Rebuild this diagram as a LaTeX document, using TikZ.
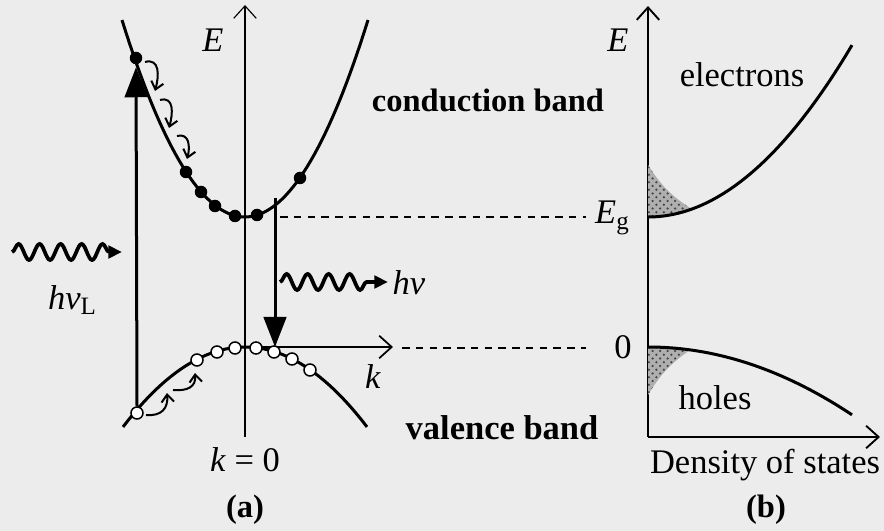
\documentclass[tikz,border=0pt]{standalone}
\usepackage{fontspec}
\setmainfont{Liberation Serif}
\usetikzlibrary{arrows.meta,decorations.pathmorphing,patterns}
\definecolor{bgc}{RGB}{236,236,236}
\definecolor{stip}{RGB}{70,70,70}
\definecolor{stipbg}{RGB}{175,175,175}
\tikzset{
  band/.style={line width=1.2pt},
  axisthin/.style={line width=0.45pt,-{Straight Barb[length=5pt,width=9pt]}},
  axisdos/.style={line width=0.75pt,-{Straight Barb[length=5pt,width=9pt]}},
  edot/.style={circle,fill=black,inner sep=0pt,minimum size=5pt},
  hdot/.style={circle,draw=black,line width=0.6pt,fill=white,inner sep=0pt,minimum size=4.8pt},
  bigarrow/.style={line width=1.2pt,-{Triangle[length=12pt,width=9pt]}},
  curly/.style={line width=0.8pt,-{Straight Barb[length=3pt,width=5pt]}},
  wavy/.style={line width=1.5pt,decorate,decoration={snake,amplitude=3.2pt,segment length=8.4pt,post length=5pt},-{Triangle[length=5.5pt,width=5pt]}},
  dashln/.style={line width=0.55pt,dash pattern=on 3pt off 2.5pt},
  lbl/.style={font=\fontsize{13.8}{16}\selectfont,inner sep=0pt},
  blbl/.style={font=\fontsize{13}{16}\selectfont\bfseries,inner sep=0pt},
  shadebg/.style={fill=stipbg},
  shade/.style={pattern=crosshatch dots,pattern color=stip}
}
\begin{document}
\begin{tikzpicture}[x=0.4pt,y=-0.4pt]
\fill[bgc] (0,0) rectangle (884,531);
\useasboundingbox (0,0) rectangle (884,531);
% ---------- panel (a) ----------
\coordinate (Eb) at (245,437);
\coordinate (Et) at (245,5);
\draw[axisthin] (Eb) -- (Et);
\node[lbl] (Elab) at (213,40) {\textit{E}};
\coordinate (kl) at (245,347);
\coordinate (kr) at (393,347);
\draw[line width=0.7pt,-{Straight Barb[length=5pt,width=9pt]}] (kl) -- (kr);
\node[lbl] (klab) at (373,377) {\textit{k}};
\node[lbl] (k0) at (245,460) {\textit{k} = 0};
\node[blbl] (la) at (245,510) {(a)};
% conduction band
\draw[band] plot[domain=122:368,samples=70] (\x,{217-1.302*((\x-245)/10)^2});
% valence band
\draw[band] plot[domain=123:367,samples=70] (\x,{347+0.537*((\x-245)/10)^2});
% electrons
\node[edot] (e1) at (136,58) {};
\node[edot] (e2) at (186,172) {};
\node[edot] (e3) at (201,192) {};
\node[edot] (e4) at (215,206) {};
\node[edot] (e5) at (235,216) {};
\node[edot] (e6) at (257,215) {};
\node[edot] (e7) at (300,178) {};
% holes
\node[hdot] (h1) at (137,413) {};
\node[hdot] (h2) at (197,360) {};
\node[hdot] (h3) at (217,352) {};
\node[hdot] (h4) at (235,348) {};
\node[hdot] (h5) at (256,348) {};
\node[hdot] (h6) at (274,352) {};
\node[hdot] (h7) at (292,359) {};
\node[hdot] (h8) at (310,370) {};
% excitation arrow
\draw[bigarrow] (h1.north) -- ([yshift=-1pt]e1.south);
% electron relaxation curly arrows
\coordinate (c1a) at (145,62);  \coordinate (c1b) at (155,91);
\coordinate (c2a) at (160,100); \coordinate (c2b) at (169,128);
\coordinate (c3a) at (177,136); \coordinate (c3b) at (187,159);
\draw[curly] (c1a) to[out=15,in=75,looseness=1.3] (c1b);
\draw[curly] (c2a) to[out=15,in=75,looseness=1.3] (c2b);
\draw[curly] (c3a) to[out=15,in=75,looseness=1.3] (c3b);
% hole curly arrows
\coordinate (d1a) at (146,415); \coordinate (d1b) at (167,393);
\coordinate (d2a) at (173,390); \coordinate (d2b) at (195,373);
\draw[curly] (d1a) to[out=-5,in=-85,looseness=1.3] (d1b);
\draw[curly] (d2a) to[out=-5,in=-85,looseness=1.3] (d2b);
% emission arrow
\coordinate (em1) at (275,198);
\coordinate (em2) at (275,347);
\draw[bigarrow] (em1) -- (em2);
% dashed lines
\coordinate (dc1) at (280,217);
\coordinate (dc2) at (586,217);
\coordinate (dv1) at (402,348);
\coordinate (dv2) at (586,348);
\draw[dashln] (dc1) -- (dc2);
\draw[dashln] (dv1) -- (dv2);
% photons
\coordinate (w1a) at (12,252);
\coordinate (w1b) at (122,252);
\draw[wavy] (w1a) -- (w1b);
\node[lbl] (hvL) at (72,300) {\textit{hν}\raisebox{-0.35ex}{\fontsize{10}{12}\selectfont L}};
\coordinate (w2a) at (280,282);
\coordinate (w2b) at (388,282);
\draw[wavy] (w2a) -- (w2b);
\node[lbl,anchor=west] (hv) at (392,283) {\textit{hν}};
\node[blbl] (cb) at (488,100) {conduction band};
\node[blbl,font=\fontsize{13.8}{16}\selectfont\bfseries] (vb) at (502,428) {valence band};
% ---------- panel (b) ----------
\coordinate (o) at (648,437);
\coordinate (Et2) at (648,6);
\coordinate (Dr) at (880,437);
\draw[axisdos] (o) -- (Et2);
\draw[axisdos] (o) -- (Dr);
\node[lbl] (E2) at (618,40) {\textit{E}};
\node[lbl] (Eg) at (612,218) {\textit{E}\raisebox{-0.35ex}{\fontsize{10}{12}\selectfont g}};
\node[lbl] (zero) at (623,347) {0};
\node[lbl] (el) at (742,75) {electrons};
\node[lbl] (ho) at (715,398) {holes};
\node[lbl] (dos) at (765,465) {Density of states};
\node[blbl] (lb) at (766,510) {(b)};
% shading
\fill[shadebg] (648,165) to[bend right=12] (690,208) -- plot[domain=690:648,samples=15] (\x,{217-0.413*((\x-648)/10)^2}) -- cycle;
\fill[shade] (648,165) to[bend right=12] (690,208) -- plot[domain=690:648,samples=15] (\x,{217-0.413*((\x-648)/10)^2}) -- cycle;
\fill[shadebg] (648,395) to[bend left=12] (690,350) -- plot[domain=690:648,samples=15] (\x,{347+0.163*((\x-648)/10)^2}) -- cycle;
\fill[shade] (648,395) to[bend left=12] (690,350) -- plot[domain=690:648,samples=15] (\x,{347+0.163*((\x-648)/10)^2}) -- cycle;
% DOS curves
\draw[band] plot[domain=648:852,samples=60] (\x,{217-0.413*((\x-648)/10)^2});
\draw[band] plot[domain=648:852,samples=60] (\x,{347+0.163*((\x-648)/10)^2});
\end{tikzpicture}
\end{document}
